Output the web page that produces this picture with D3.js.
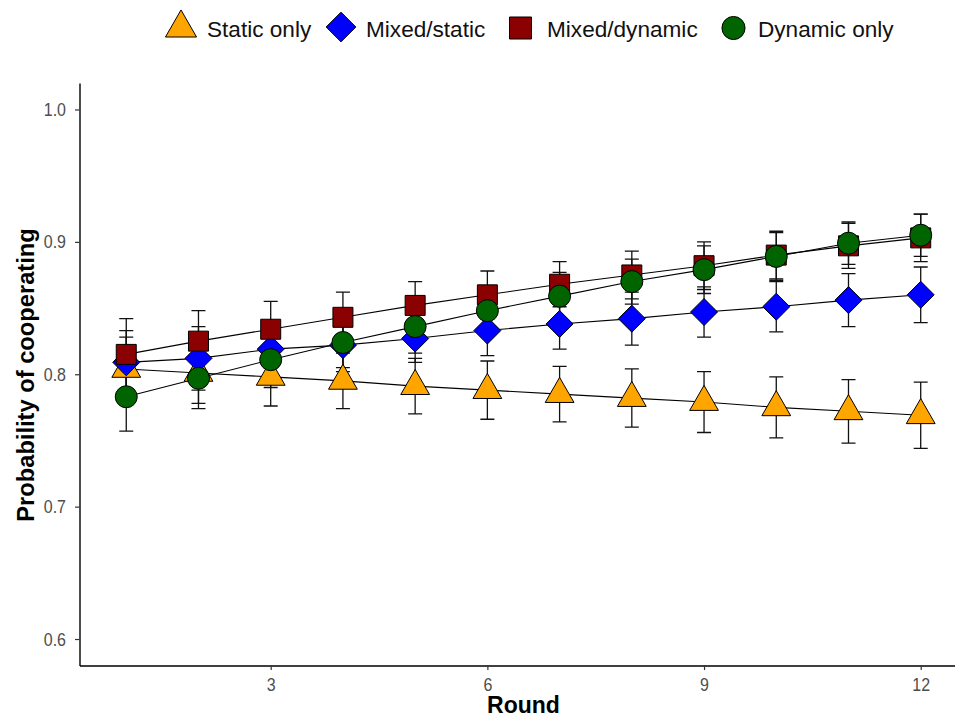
<!DOCTYPE html>
<html><head><meta charset="utf-8">
<script src="https://cdn.jsdelivr.net/npm/d3@7"></script>
<style>
body{margin:0;background:#fff;}
svg{display:block;font-family:"Liberation Sans",Arial,sans-serif;}
</style>
</head><body>
<svg id="chart" width="955" height="720"></svg>
<script>
// ---- data ----
const rounds = [1,2,3,4,5,6,7,8,9,10,11,12];
const seriesNames = ["Static only","Mixed/static","Mixed/dynamic","Dynamic only"];
const staticOnly   = [0.804,0.801,0.798,0.795,0.791,0.788,0.785,0.782,0.779,0.775,0.772,0.769];
const mixedStatic  = [0.809,0.812,0.819,0.822,0.827,0.833,0.838,0.842,0.847,0.851,0.856,0.860];
const mixedDynamic = [0.815,0.825,0.834,0.843,0.852,0.860,0.868,0.875,0.882,0.890,0.897,0.903];
const dynamicOnly  = [0.783,0.797,0.811,0.824,0.836,0.848,0.859,0.870,0.879,0.889,0.899,0.905];
const staticErr       = [0.024,0.023,0.022,0.021,0.021,0.022,0.021,0.022,0.023,0.023,0.024,0.025];
const mixedStaticErr  = [0.024,0.024,0.021,0.020,0.018,0.019,0.019,0.020,0.019,0.019,0.020,0.021];
const mixedDynamicErr = [0.027,0.023,0.021,0.019,0.018,0.018,0.017,0.018,0.018,0.018,0.017,0.018];
const dynamicErr      = [0.026,0.023,0.021,0.019,0.020,0.019,0.018,0.017,0.018,0.018,0.016,0.016];
const xTicks = [3,6,9,12];
const yTicks = [0.6,0.7,0.8,0.9,1.0];

const values = [staticOnly, mixedStatic, mixedDynamic, dynamicOnly];
const errors = [staticErr, mixedStaticErr, mixedDynamicErr, dynamicErr];
const shapes = ["triangle","diamond","square","circle"];
const fills = ["#FFA500","#0000FF","#8B0000","#006400"];

const series = seriesNames.map((name,i)=>({
  name, shape: shapes[i], fill: fills[i],
  pts: rounds.map((r,j)=>({r, v: values[i][j], e: errors[i][j]}))
}));

const svg = d3.select("#chart");
const x = d3.scaleLinear().domain([0.3526, 12.544]).range([79.5, 960]);
const y = d3.scaleLinear().domain([0.58, 1.02]).range([665.5, 83]);

function shapePath(type, cx, cy, s){
  if(type==="triangle"){
    const r=16.7*s, hb=14.4*s;
    return `M${cx},${cy-r}L${cx+hb},${cy+r/2}L${cx-hb},${cy+r/2}Z`;
  }
  if(type==="diamond"){
    const h=13.5*s;
    return `M${cx},${cy-h}L${cx+h},${cy}L${cx},${cy+h}L${cx-h},${cy}Z`;
  }
  if(type==="square"){
    const h=10*s;
    return `M${cx-h},${cy-h}H${cx+h}V${cy+h}H${cx-h}Z`;
  }
  const r=11*s;
  return `M${cx-r},${cy}A${r},${r} 0 1,0 ${cx+r},${cy}A${r},${r} 0 1,0 ${cx-r},${cy}Z`;
}

// axes
const yAxis = svg.append("g").attr("transform","translate(79.5,0)")
  .call(d3.axisLeft(y).tickValues(yTicks).tickFormat(d3.format(".1f")).tickSize(4.5).tickSizeOuter(0).tickPadding(9));
const xAxis = svg.append("g").attr("transform","translate(0,665.5)")
  .call(d3.axisBottom(x).tickValues(xTicks).tickFormat(d3.format("d")).tickSize(4.5).tickSizeOuter(0).tickPadding(6));
[yAxis,xAxis].forEach(g=>{
  g.select(".domain").attr("stroke","#000").attr("stroke-width",1.4);
  g.selectAll(".tick line").attr("stroke","#333").attr("stroke-width",1.2);
  g.selectAll(".tick text").attr("fill","#4D4D4D").style("font-size","16px")
    .style("font-family",'"Liberation Sans",Arial,sans-serif');
});
yAxis.selectAll(".tick text").attr("transform","scale(1,1.18)").attr("dy","0.32em");
xAxis.selectAll(".tick text").attr("transform","scale(1,1.18)").attr("dy","0.71em");

// lines
const line = d3.line().x(d=>x(d.r)).y(d=>y(d.v));
svg.append("g").selectAll("path").data(series).join("path")
  .attr("d",d=>line(d.pts)).attr("fill","none").attr("stroke","#000").attr("stroke-width",1.1);

// error bars
const eb = svg.append("g").attr("stroke","#111").attr("stroke-width",1.3).attr("fill","none");
series.forEach(s=>{
  s.pts.forEach(p=>{
    const cx=x(p.r), y0=y(p.v-p.e), y1=y(p.v+p.e), w=7;
    eb.append("path").attr("d",`M${cx},${y0}V${y1}M${cx-w},${y0}H${cx+w}M${cx-w},${y1}H${cx+w}`);
  });
});

// points
series.forEach(s=>{
  svg.append("g").selectAll("path").data(s.pts).join("path")
    .attr("d",p=>shapePath(s.shape, x(p.r), y(p.v), 1))
    .attr("fill",s.fill).attr("stroke","#000").attr("stroke-width",1);
});

// axis titles
svg.append("text").attr("x",523.5).attr("y",713).attr("text-anchor","middle")
  .style("font-weight","bold").style("font-size","23px").attr("fill","#000").text("Round");
svg.append("text").attr("transform","translate(34,375) rotate(-90)").attr("text-anchor","middle")
  .style("font-weight","bold").style("font-size","23.7px").attr("fill","#000").text("Probability of cooperating");

// legend
const legendPos = [
  {sx:181, sy:28, tx:207, scale:1.08},
  {sx:341, sy:27, tx:366, scale:1.1},
  {sx:520.5, sy:28, tx:547, scale:1.1},
  {sx:733.5, sy:28, tx:758, scale:1.05}
];
const lg = svg.append("g");
series.forEach((s,i)=>{
  const p=legendPos[i];
  lg.append("path").attr("d",shapePath(s.shape,p.sx,p.sy,p.scale))
    .attr("fill",s.fill).attr("stroke","#000").attr("stroke-width",1);
  lg.append("text").attr("x",p.tx).attr("y",37).style("font-size","22.6px").attr("fill","#111").text(s.name);
});
</script>
</body></html>
